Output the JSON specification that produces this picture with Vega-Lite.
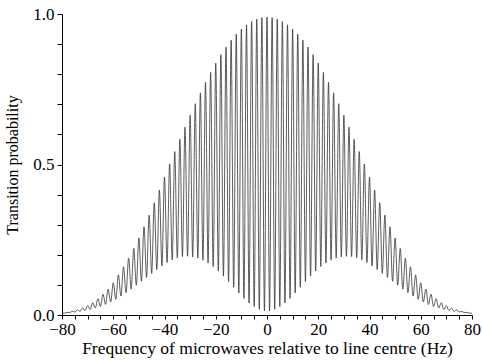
{
  "$schema": "https://vega.github.io/schema/vega-lite/v6.json",
  "width": 410,
  "height": 301,
  "autosize": "none",
  "padding": {"left": 62, "top": 14, "right": 10, "bottom": 47},
  "background": "white",
  "config": {
    "view": {"stroke": null},
    "font": "Liberation Serif",
    "axis": {
      "grid": false,
      "domainColor": "black",
      "domainWidth": 1,
      "tickColor": "black",
      "tickWidth": 1,
      "labelColor": "black",
      "titleColor": "black",
      "labelFont": "Liberation Serif",
      "titleFont": "Liberation Serif",
      "labelFontSize": 17,
      "titleFontSize": 17,
      "titleFontWeight": "normal"
    }
  },
  "data": {
    "values": [
      {"f": -80, "p": 0.006}, {"f": -79, "p": 0.006}, {"f": -78, "p": 0.009}, {"f": -77, "p": 0.008},
      {"f": -76, "p": 0.012}, {"f": -75, "p": 0.010}, {"f": -74, "p": 0.017}, {"f": -73, "p": 0.012},
      {"f": -72, "p": 0.023}, {"f": -71, "p": 0.015}, {"f": -70, "p": 0.031}, {"f": -69, "p": 0.018},
      {"f": -68, "p": 0.041}, {"f": -67, "p": 0.023}, {"f": -66, "p": 0.054}, {"f": -65, "p": 0.028},
      {"f": -64, "p": 0.069}, {"f": -63, "p": 0.035}, {"f": -62, "p": 0.086}, {"f": -61, "p": 0.043},
      {"f": -60, "p": 0.107}, {"f": -59, "p": 0.052}, {"f": -58, "p": 0.133}, {"f": -57, "p": 0.063},
      {"f": -56, "p": 0.160}, {"f": -55, "p": 0.074}, {"f": -54, "p": 0.189}, {"f": -53, "p": 0.086},
      {"f": -52, "p": 0.221}, {"f": -51, "p": 0.099}, {"f": -50, "p": 0.256}, {"f": -49, "p": 0.112},
      {"f": -48, "p": 0.293}, {"f": -47, "p": 0.125}, {"f": -46, "p": 0.332}, {"f": -45, "p": 0.138},
      {"f": -44, "p": 0.373}, {"f": -43, "p": 0.151}, {"f": -42, "p": 0.415}, {"f": -41, "p": 0.163},
      {"f": -40, "p": 0.458}, {"f": -39, "p": 0.174}, {"f": -38, "p": 0.502}, {"f": -37, "p": 0.183},
      {"f": -36, "p": 0.543}, {"f": -35, "p": 0.190}, {"f": -34, "p": 0.584}, {"f": -33, "p": 0.194},
      {"f": -32, "p": 0.624}, {"f": -31, "p": 0.195}, {"f": -30, "p": 0.664}, {"f": -29, "p": 0.193},
      {"f": -28, "p": 0.702}, {"f": -27, "p": 0.189}, {"f": -26, "p": 0.738}, {"f": -25, "p": 0.182},
      {"f": -24, "p": 0.773}, {"f": -23, "p": 0.173}, {"f": -22, "p": 0.806}, {"f": -21, "p": 0.161},
      {"f": -20, "p": 0.837}, {"f": -19, "p": 0.146}, {"f": -18, "p": 0.865}, {"f": -17, "p": 0.129},
      {"f": -16, "p": 0.890}, {"f": -15, "p": 0.111}, {"f": -14, "p": 0.913}, {"f": -13, "p": 0.092},
      {"f": -12, "p": 0.933}, {"f": -11, "p": 0.073}, {"f": -10, "p": 0.950}, {"f": -9, "p": 0.055},
      {"f": -8, "p": 0.964}, {"f": -7, "p": 0.040}, {"f": -6, "p": 0.975}, {"f": -5, "p": 0.028},
      {"f": -4, "p": 0.983}, {"f": -3, "p": 0.019}, {"f": -2, "p": 0.988}, {"f": -1, "p": 0.014},
      {"f": 0, "p": 0.990},
      {"f": 1, "p": 0.014}, {"f": 2, "p": 0.988}, {"f": 3, "p": 0.019}, {"f": 4, "p": 0.983},
      {"f": 5, "p": 0.028}, {"f": 6, "p": 0.975}, {"f": 7, "p": 0.040}, {"f": 8, "p": 0.964},
      {"f": 9, "p": 0.055}, {"f": 10, "p": 0.950}, {"f": 11, "p": 0.073}, {"f": 12, "p": 0.933},
      {"f": 13, "p": 0.092}, {"f": 14, "p": 0.913}, {"f": 15, "p": 0.111}, {"f": 16, "p": 0.890},
      {"f": 17, "p": 0.129}, {"f": 18, "p": 0.865}, {"f": 19, "p": 0.146}, {"f": 20, "p": 0.837},
      {"f": 21, "p": 0.161}, {"f": 22, "p": 0.806}, {"f": 23, "p": 0.173}, {"f": 24, "p": 0.773},
      {"f": 25, "p": 0.182}, {"f": 26, "p": 0.738}, {"f": 27, "p": 0.189}, {"f": 28, "p": 0.702},
      {"f": 29, "p": 0.193}, {"f": 30, "p": 0.664}, {"f": 31, "p": 0.195}, {"f": 32, "p": 0.624},
      {"f": 33, "p": 0.194}, {"f": 34, "p": 0.584}, {"f": 35, "p": 0.190}, {"f": 36, "p": 0.543},
      {"f": 37, "p": 0.183}, {"f": 38, "p": 0.502}, {"f": 39, "p": 0.174}, {"f": 40, "p": 0.458},
      {"f": 41, "p": 0.163}, {"f": 42, "p": 0.415}, {"f": 43, "p": 0.151}, {"f": 44, "p": 0.373},
      {"f": 45, "p": 0.138}, {"f": 46, "p": 0.332}, {"f": 47, "p": 0.125}, {"f": 48, "p": 0.293},
      {"f": 49, "p": 0.112}, {"f": 50, "p": 0.256}, {"f": 51, "p": 0.099}, {"f": 52, "p": 0.221},
      {"f": 53, "p": 0.086}, {"f": 54, "p": 0.189}, {"f": 55, "p": 0.074}, {"f": 56, "p": 0.160},
      {"f": 57, "p": 0.063}, {"f": 58, "p": 0.133}, {"f": 59, "p": 0.052}, {"f": 60, "p": 0.107},
      {"f": 61, "p": 0.043}, {"f": 62, "p": 0.086}, {"f": 63, "p": 0.035}, {"f": 64, "p": 0.069},
      {"f": 65, "p": 0.028}, {"f": 66, "p": 0.054}, {"f": 67, "p": 0.023}, {"f": 68, "p": 0.041},
      {"f": 69, "p": 0.018}, {"f": 70, "p": 0.031}, {"f": 71, "p": 0.015}, {"f": 72, "p": 0.023},
      {"f": 73, "p": 0.012}, {"f": 74, "p": 0.017}, {"f": 75, "p": 0.010}, {"f": 76, "p": 0.012},
      {"f": 77, "p": 0.008}, {"f": 78, "p": 0.009}, {"f": 79, "p": 0.006}, {"f": 80, "p": 0.006}
    ]
  },
  "mark": {"type": "line", "color": "#333333", "strokeWidth": 0.8, "interpolate": "monotone"},
  "encoding": {
    "x": {
      "field": "f",
      "type": "quantitative",
      "scale": {"domain": [-80, 80], "nice": false, "zero": false},
      "axis": {
        "title": "Frequency of microwaves relative to line centre (Hz)",
        "titleFontSize": 17.5,
        "values": [-80, -75, -70, -65, -60, -55, -50, -45, -40, -35, -30, -25, -20, -15, -10, -5, 0, 5, 10, 15, 20, 25, 30, 35, 40, 45, 50, 55, 60, 65, 70, 75, 80],
        "labelExpr": "datum.value % 20 === 0 ? format(datum.value, 'd') : ''",
        "tickSize": 4,
        "labelPadding": 2,
        "titlePadding": 2,
        "labelFlush": false,
        "labelOverlap": false
      }
    },
    "y": {
      "field": "p",
      "type": "quantitative",
      "scale": {"domain": [0, 1], "nice": false},
      "axis": {
        "title": "Transition probability",
        "titleFontSize": 16,
        "values": [0, 0.1, 0.2, 0.3, 0.4, 0.5, 0.6, 0.7, 0.8, 0.9, 1.0],
        "labelExpr": "(datum.value === 0 || datum.value === 0.5 || datum.value === 1) ? format(datum.value, '.1f') : ''",
        "tickSize": 5,
        "labelPadding": 3,
        "titlePadding": 12,
        "labelFlush": false,
        "labelOverlap": false
      }
    }
  }
}
